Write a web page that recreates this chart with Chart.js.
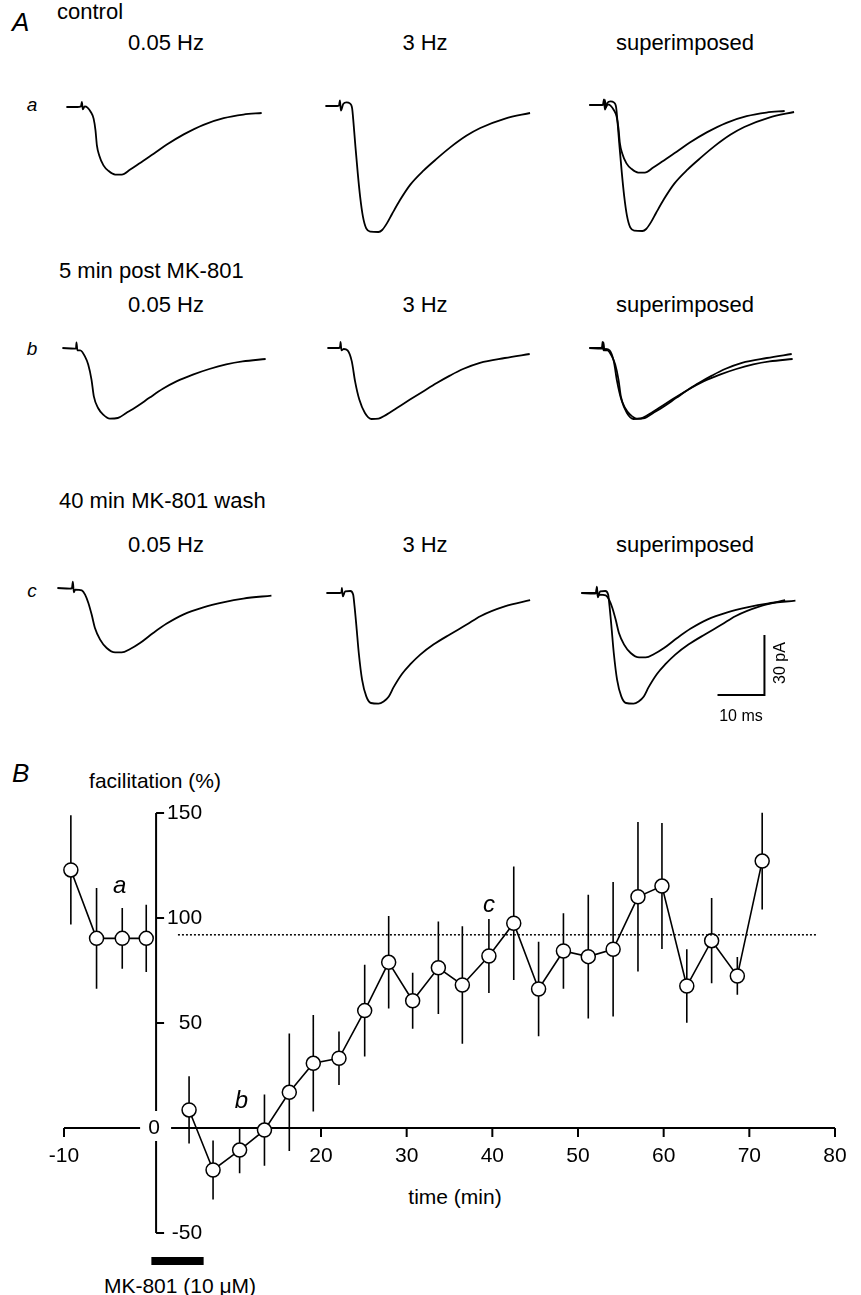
<!DOCTYPE html>
<html>
<head>
<meta charset="utf-8">
<script src="https://cdn.jsdelivr.net/npm/chart.js@4.4.0/dist/chart.umd.min.js"></script>
<style>
  body { margin: 0; background: #fff; width: 861px; height: 1295px; position: relative; overflow: hidden;
         font-family: "Liberation Sans", Arial, sans-serif; color: #000; }
  canvas { position: absolute; }
  .t { position: absolute; white-space: nowrap; font-size: 22px; line-height: 1; }
  .c { transform: translate(-50%, -50%); }
  .l { transform: translateY(-50%); }
  .i { font-style: italic; }
</style>
</head>
<body>

<div class="t l i" style="left:12px;top:22px;font-size:26px">A</div>
<div class="t l" style="left:57px;top:12px">control</div>
<div class="t c" style="left:166px;top:43px">0.05 Hz</div>
<div class="t c" style="left:425px;top:43px">3 Hz</div>
<div class="t c" style="left:685px;top:43px">superimposed</div>
<div class="t c i" style="left:32px;top:104px;font-size:19px">a</div>

<div class="t l" style="left:59px;top:271px">5 min post MK-801</div>
<div class="t c" style="left:166px;top:305px">0.05 Hz</div>
<div class="t c" style="left:425px;top:305px">3 Hz</div>
<div class="t c" style="left:685px;top:305px">superimposed</div>
<div class="t c i" style="left:32px;top:348px;font-size:19px">b</div>

<div class="t l" style="left:59px;top:501px">40 min MK-801 wash</div>
<div class="t c" style="left:166px;top:545px">0.05 Hz</div>
<div class="t c" style="left:425px;top:545px">3 Hz</div>
<div class="t c" style="left:685px;top:545px">superimposed</div>
<div class="t c i" style="left:32px;top:590px;font-size:19px">c</div>

<div class="t l i" style="left:12px;top:773px;font-size:26px">B</div>
<div class="t c" style="left:155px;top:780px;font-size:21px">facilitation (%)</div>
<div class="t c" style="left:455px;top:1196px;font-size:21px">time (min)</div>
<div class="t c" style="left:180px;top:1285px;font-size:21px">MK-801 (10 μM)</div>

<canvas id="aSlow" width="230" height="148" style="left:57px;top:91px"></canvas>
<canvas id="aFast" width="230" height="148" style="left:316px;top:90px"></canvas>
<canvas id="aBoth" width="230" height="148" style="left:580px;top:89px"></canvas>
<canvas id="bSlow" width="230" height="148" style="left:53px;top:332px"></canvas>
<canvas id="bFast" width="230" height="148" style="left:318px;top:332px"></canvas>
<canvas id="bBoth" width="230" height="148" style="left:580px;top:332px"></canvas>
<canvas id="cSlow" width="230" height="148" style="left:48px;top:572px"></canvas>
<canvas id="cFast" width="230" height="148" style="left:317px;top:577px"></canvas>
<canvas id="cBoth" width="230" height="148" style="left:572px;top:577px"></canvas>

<canvas id="chartB" width="861" height="535" style="left:0;top:760px"></canvas>

<script>
// ---- panel A: EPSC traces, [time (ms), current (pA)] ----
const ctrlSlow = [[0,0],[2.3,0],[3.1,0.3],[3.3,2.6],[3.5,-1.2],[3.9,0.3],[4.5,-0.3],[5.2,-2.5],[5.8,-5.8],
  [6.2,-11.7],[6.5,-19.2],[7.0,-24.2],[7.9,-29.2],[9.0,-32],[10.4,-33.8],[11.8,-33.8],[13.6,-31.3],
  [15.7,-28],[18.6,-23.4],[21.4,-18.8],[25.0,-13.7],[29.2,-8.9],[33.5,-5.6],[37.7,-3.8],[41.6,-3]];
const ctrlFast = [[0,0],[2.5,0],[2.9,0.3],[3.1,2.8],[3.3,-2.3],[3.8,1],[4.5,1.8],[5.2,1.3],[5.7,-1.2],
  [6.0,-8.7],[6.4,-20.3],[6.9,-33.7],[7.4,-45.3],[8.0,-55.3],[8.7,-61.2],[9.6,-62.8],[11.3,-63],
  [12.1,-62],[13.1,-58.7],[14.2,-54],[15.9,-47],[18.1,-39.3],[20.9,-32.3],[23.8,-26.2],[26.6,-20.7],
  [30.1,-14.8],[33.0,-11],[38.3,-6.3],[43.6,-3.5]];
const postSlow = [[0,0],[2.6,-0.3],[2.9,-0.2],[3.0,2.8],[3.2,-1.2],[3.8,-1.2],[4.8,-4.2],[5.5,-8.3],
  [6.2,-15.8],[6.7,-24.2],[7.6,-30],[8.7,-33.3],[10.1,-35.3],[11.8,-35],[13.6,-32.5],[15.7,-29.5],
  [18.6,-24.8],[21.4,-20.4],[24.3,-16.7],[27.8,-13.3],[31.3,-10.5],[34.9,-8.2],[38.4,-6.7],[43.3,-5.5]];
const postFast = [[0,0],[2.4,0],[2.7,0.5],[2.8,3],[3.0,-1.2],[3.5,-0.5],[4.3,-1.2],[5.2,-6.7],
  [5.9,-16.7],[6.8,-25.8],[8.0,-32.5],[9.4,-35.5],[10.9,-35.3],[12.6,-33.3],[14.8,-30],[17.6,-25.8],
  [20.4,-21.7],[23.3,-17.5],[26.1,-13.8],[28.9,-10.5],[32.5,-7.4],[37.8,-5],[43.1,-3]];
const washSlow = [[0,0],[2.7,-0.3],[3.1,0],[3.3,3.2],[3.5,-2.2],[3.8,-0.8],[5.2,-1.2],[5.9,-3.3],
  [6.6,-7.5],[7.3,-13.3],[8.0,-20],[9.1,-25.8],[10.5,-30],[12.3,-32.2],[13.7,-32.2],[15.5,-30.5],
  [17.6,-27.5],[20.4,-22.5],[23.3,-17.8],[26.8,-13.3],[31.1,-9.7],[35.3,-7.2],[39.6,-5.3],[45.6,-3.8]];
const washFast = [[0,0],[2.8,0],[3.2,0.2],[3.3,2.6],[3.5,-1.7],[4.0,0.8],[5.1,1],[5.7,-0.8],[6.0,-6.7],
  [6.4,-16.7],[6.9,-30],[7.6,-43.3],[8.5,-51.7],[9.5,-55],[11.1,-55.3],[12.2,-54.2],[13.3,-51.7],
  [14.3,-47.2],[16.1,-40.5],[17.9,-35.6],[20,-30.8],[22.8,-25.8],[26.4,-20.6],[29.9,-15.8],[32.8,-11.6],
  [38,-6.7],[43.4,-3.6]];

// calibration bar: 10 ms x 30 pA, corner at (39 ms, -51 pA) of the last superimposed panel
const barMs = 10, barPA = 30, barCorner = [39, -51];

// ---- panel B: facilitation (%) vs time (min), mean and s.e.m. ----
const preTime = [-9.2, -6.2, -3.2, -0.4];
const preFacil = [122.9, 90.3, 90.3, 90.3];
const preErr = [26, 24, 14.5, 16];
const postTime = [4.6, 7.4, 10.5, 13.4, 16.3, 19.1, 22.1, 25.1, 27.9, 30.7, 33.7, 36.5, 39.6, 42.5,
  45.4, 48.3, 51.2, 54.1, 57.0, 59.8, 62.7, 65.6, 68.6, 71.5];
const postFacil = [8.6, -20, -10.5, -1, 17, 30.8, 33.2, 55.9, 78.9, 60.6, 76.3, 68.1, 81.9, 97.5,
  66.2, 84.3, 81.6, 85.1, 110.1, 115.2, 67.6, 89.2, 72.4, 127.1];
const postErr = [16, 14, 11, 17, 28, 23, 12.7, 21.8, 22, 13.3, 22, 28, 17.6, 27,
  22.5, 18, 29.5, 32, 35.6, 30, 17.5, 20.3, 9, 23];
const controlLevel = 92;            // mean control facilitation (dotted line)
const controlSpan = [3.3, 78];
const drugPeriod = [0.2, 6.3];      // MK-801 application (min)
const xTicks = [-10, 20, 30, 40, 50, 60, 70, 80];
const yTicks = [-50, 0, 50, 100, 150];
const yAxisAt = 0.75;
const epochMarks = [['a', -3.5, 115], ['b', 10.7, 12.5], ['c', 39.6, 106]];

const toXY = arr => arr.map(([t, i]) => ({ x: t, y: i }));

const calBar = {
  id: 'calBar',
  afterDatasetsDraw(chart) {
    const { ctx, scales: { x, y } } = chart;
    const x1 = x.getPixelForValue(barCorner[0]), y1 = y.getPixelForValue(barCorner[1]);
    const x0 = x.getPixelForValue(barCorner[0] - barMs), y0 = y.getPixelForValue(barCorner[1] + barPA);
    ctx.save();
    ctx.strokeStyle = '#000';
    ctx.lineWidth = 2;
    ctx.beginPath();
    ctx.moveTo(x0, y1); ctx.lineTo(x1, y1); ctx.lineTo(x1, y0);
    ctx.stroke();
    ctx.restore();
  }
};

function traceChart(id, traces, extra) {
  new Chart(document.getElementById(id), {
    type: 'scatter',
    data: {
      datasets: traces.map(tr => ({
        data: toXY(tr),
        showLine: true,
        borderColor: '#000',
        borderWidth: 1.8,
        pointRadius: 0,
        cubicInterpolationMode: 'monotone',
        clip: false
      }))
    },
    options: {
      responsive: false,
      animation: false,
      layout: { padding: 0 },
      scales: {
        x: { type: 'linear', min: -2, max: 47, display: false },
        y: { min: -66, max: 8, display: false }
      },
      plugins: { legend: { display: false }, tooltip: { enabled: false } }
    },
    plugins: extra ? [extra] : []
  });
}

traceChart('aSlow', [ctrlSlow]);
traceChart('aFast', [ctrlFast]);
traceChart('aBoth', [ctrlSlow, ctrlFast]);
traceChart('bSlow', [postSlow]);
traceChart('bFast', [postFast]);
traceChart('bBoth', [postSlow, postFast]);
traceChart('cSlow', [washSlow]);
traceChart('cFast', [washFast]);
traceChart('cBoth', [washSlow, washFast], calBar);

// the calibration labels sit beside the bar
(function () {
  const lab = (txt, l, t, rot) => {
    const d = document.createElement('div');
    d.className = 't c';
    d.style.cssText = 'left:' + l + 'px;top:' + t + 'px;font-size:16px;' +
      (rot ? 'transform:translate(-50%,-50%) rotate(-90deg)' : '');
    d.textContent = txt;
    document.body.appendChild(d);
  };
  lab('10 ms', 741, 716, false);
  lab('30 pA', 780, 663, true);
})();

const axesB = {
  id: 'axesB',
  beforeDatasetsDraw(chart) {
    const { ctx, scales: { x, y } } = chart;
    const ax = x.getPixelForValue(yAxisAt);
    const ay = y.getPixelForValue(0);
    ctx.save();
    ctx.strokeStyle = '#000';
    ctx.fillStyle = '#000';
    ctx.lineWidth = 2;
    ctx.beginPath();
    ctx.moveTo(x.getPixelForValue(xTicks[0]), ay);
    ctx.lineTo(x.getPixelForValue(xTicks[xTicks.length - 1]), ay);
    ctx.moveTo(ax, y.getPixelForValue(yTicks[0]));
    ctx.lineTo(ax, y.getPixelForValue(yTicks[yTicks.length - 1]));
    xTicks.forEach(v => {
      const px = x.getPixelForValue(v);
      ctx.moveTo(px, ay); ctx.lineTo(px, ay + 9);
    });
    yTicks.forEach(v => {
      if (v === 0) return;
      const py = y.getPixelForValue(v);
      ctx.moveTo(ax, py); ctx.lineTo(ax + 8, py);
    });
    ctx.stroke();

    ctx.font = '21px "Liberation Sans", Arial, sans-serif';
    ctx.textBaseline = 'middle';
    ctx.textAlign = 'center';
    xTicks.forEach(v => ctx.fillText(String(v), x.getPixelForValue(v), ay + 28));
    ctx.textAlign = 'right';
    yTicks.forEach(v => {
      if (v === 0) return;
      ctx.fillText(String(v), ax + 46, y.getPixelForValue(v));
    });
    // the zero label sits in a gap where the axes cross
    ctx.fillStyle = '#fff';
    ctx.fillRect(ax - 16, ay - 17, 31, 30);
    ctx.fillStyle = '#000';
    ctx.textAlign = 'center';
    ctx.fillText('0', ax - 2, ay);

    // error bars (s.e.m.)
    ctx.lineWidth = 1.6;
    ctx.beginPath();
    chart.data.datasets.forEach(ds => {
      if (!ds.errors) return;
      ds.data.forEach((p, k) => {
        const px = x.getPixelForValue(p.x);
        ctx.moveTo(px, y.getPixelForValue(p.y + ds.errors[k]));
        ctx.lineTo(px, y.getPixelForValue(p.y - ds.errors[k]));
      });
    });
    ctx.stroke();

    // drug application bar
    ctx.lineWidth = 8;
    ctx.beginPath();
    const by = chart.chartArea.bottom + 28;
    ctx.moveTo(x.getPixelForValue(drugPeriod[0]), by);
    ctx.lineTo(x.getPixelForValue(drugPeriod[1]), by);
    ctx.stroke();
    ctx.restore();
  },
  afterDatasetsDraw(chart) {
    const { ctx, scales: { x, y } } = chart;
    ctx.save();
    ctx.fillStyle = '#000';
    ctx.font = 'italic 24px "Liberation Sans", Arial, sans-serif';
    ctx.textAlign = 'center';
    ctx.textBaseline = 'middle';
    epochMarks.forEach(([s, mx, my]) => ctx.fillText(s, x.getPixelForValue(mx), y.getPixelForValue(my)));
    ctx.restore();
  }
};

const pointStyle = {
  showLine: true,
  borderColor: '#000',
  borderWidth: 1.6,
  pointRadius: 7,
  pointBackgroundColor: '#fff',
  pointBorderColor: '#000',
  pointBorderWidth: 1.5,
  clip: false
};

new Chart(document.getElementById('chartB'), {
  type: 'scatter',
  data: {
    datasets: [
      {
        data: controlSpan.map(t => ({ x: t, y: controlLevel })),
        showLine: true,
        borderColor: '#000',
        borderWidth: 1.5,
        borderDash: [2, 2],
        pointRadius: 0,
        clip: false
      },
      Object.assign({ data: preTime.map((t, k) => ({ x: t, y: preFacil[k] })), errors: preErr }, pointStyle),
      Object.assign({ data: postTime.map((t, k) => ({ x: t, y: postFacil[k] })), errors: postErr }, pointStyle)
    ]
  },
  options: {
    responsive: false,
    animation: false,
    layout: { padding: { left: 64, right: 26, top: 53, bottom: 62 } },
    scales: {
      x: { type: 'linear', min: -10, max: 80, display: false },
      y: { min: -50, max: 150, display: false }
    },
    plugins: { legend: { display: false }, tooltip: { enabled: false } }
  },
  plugins: [axesB]
});
</script>
</body>
</html>
